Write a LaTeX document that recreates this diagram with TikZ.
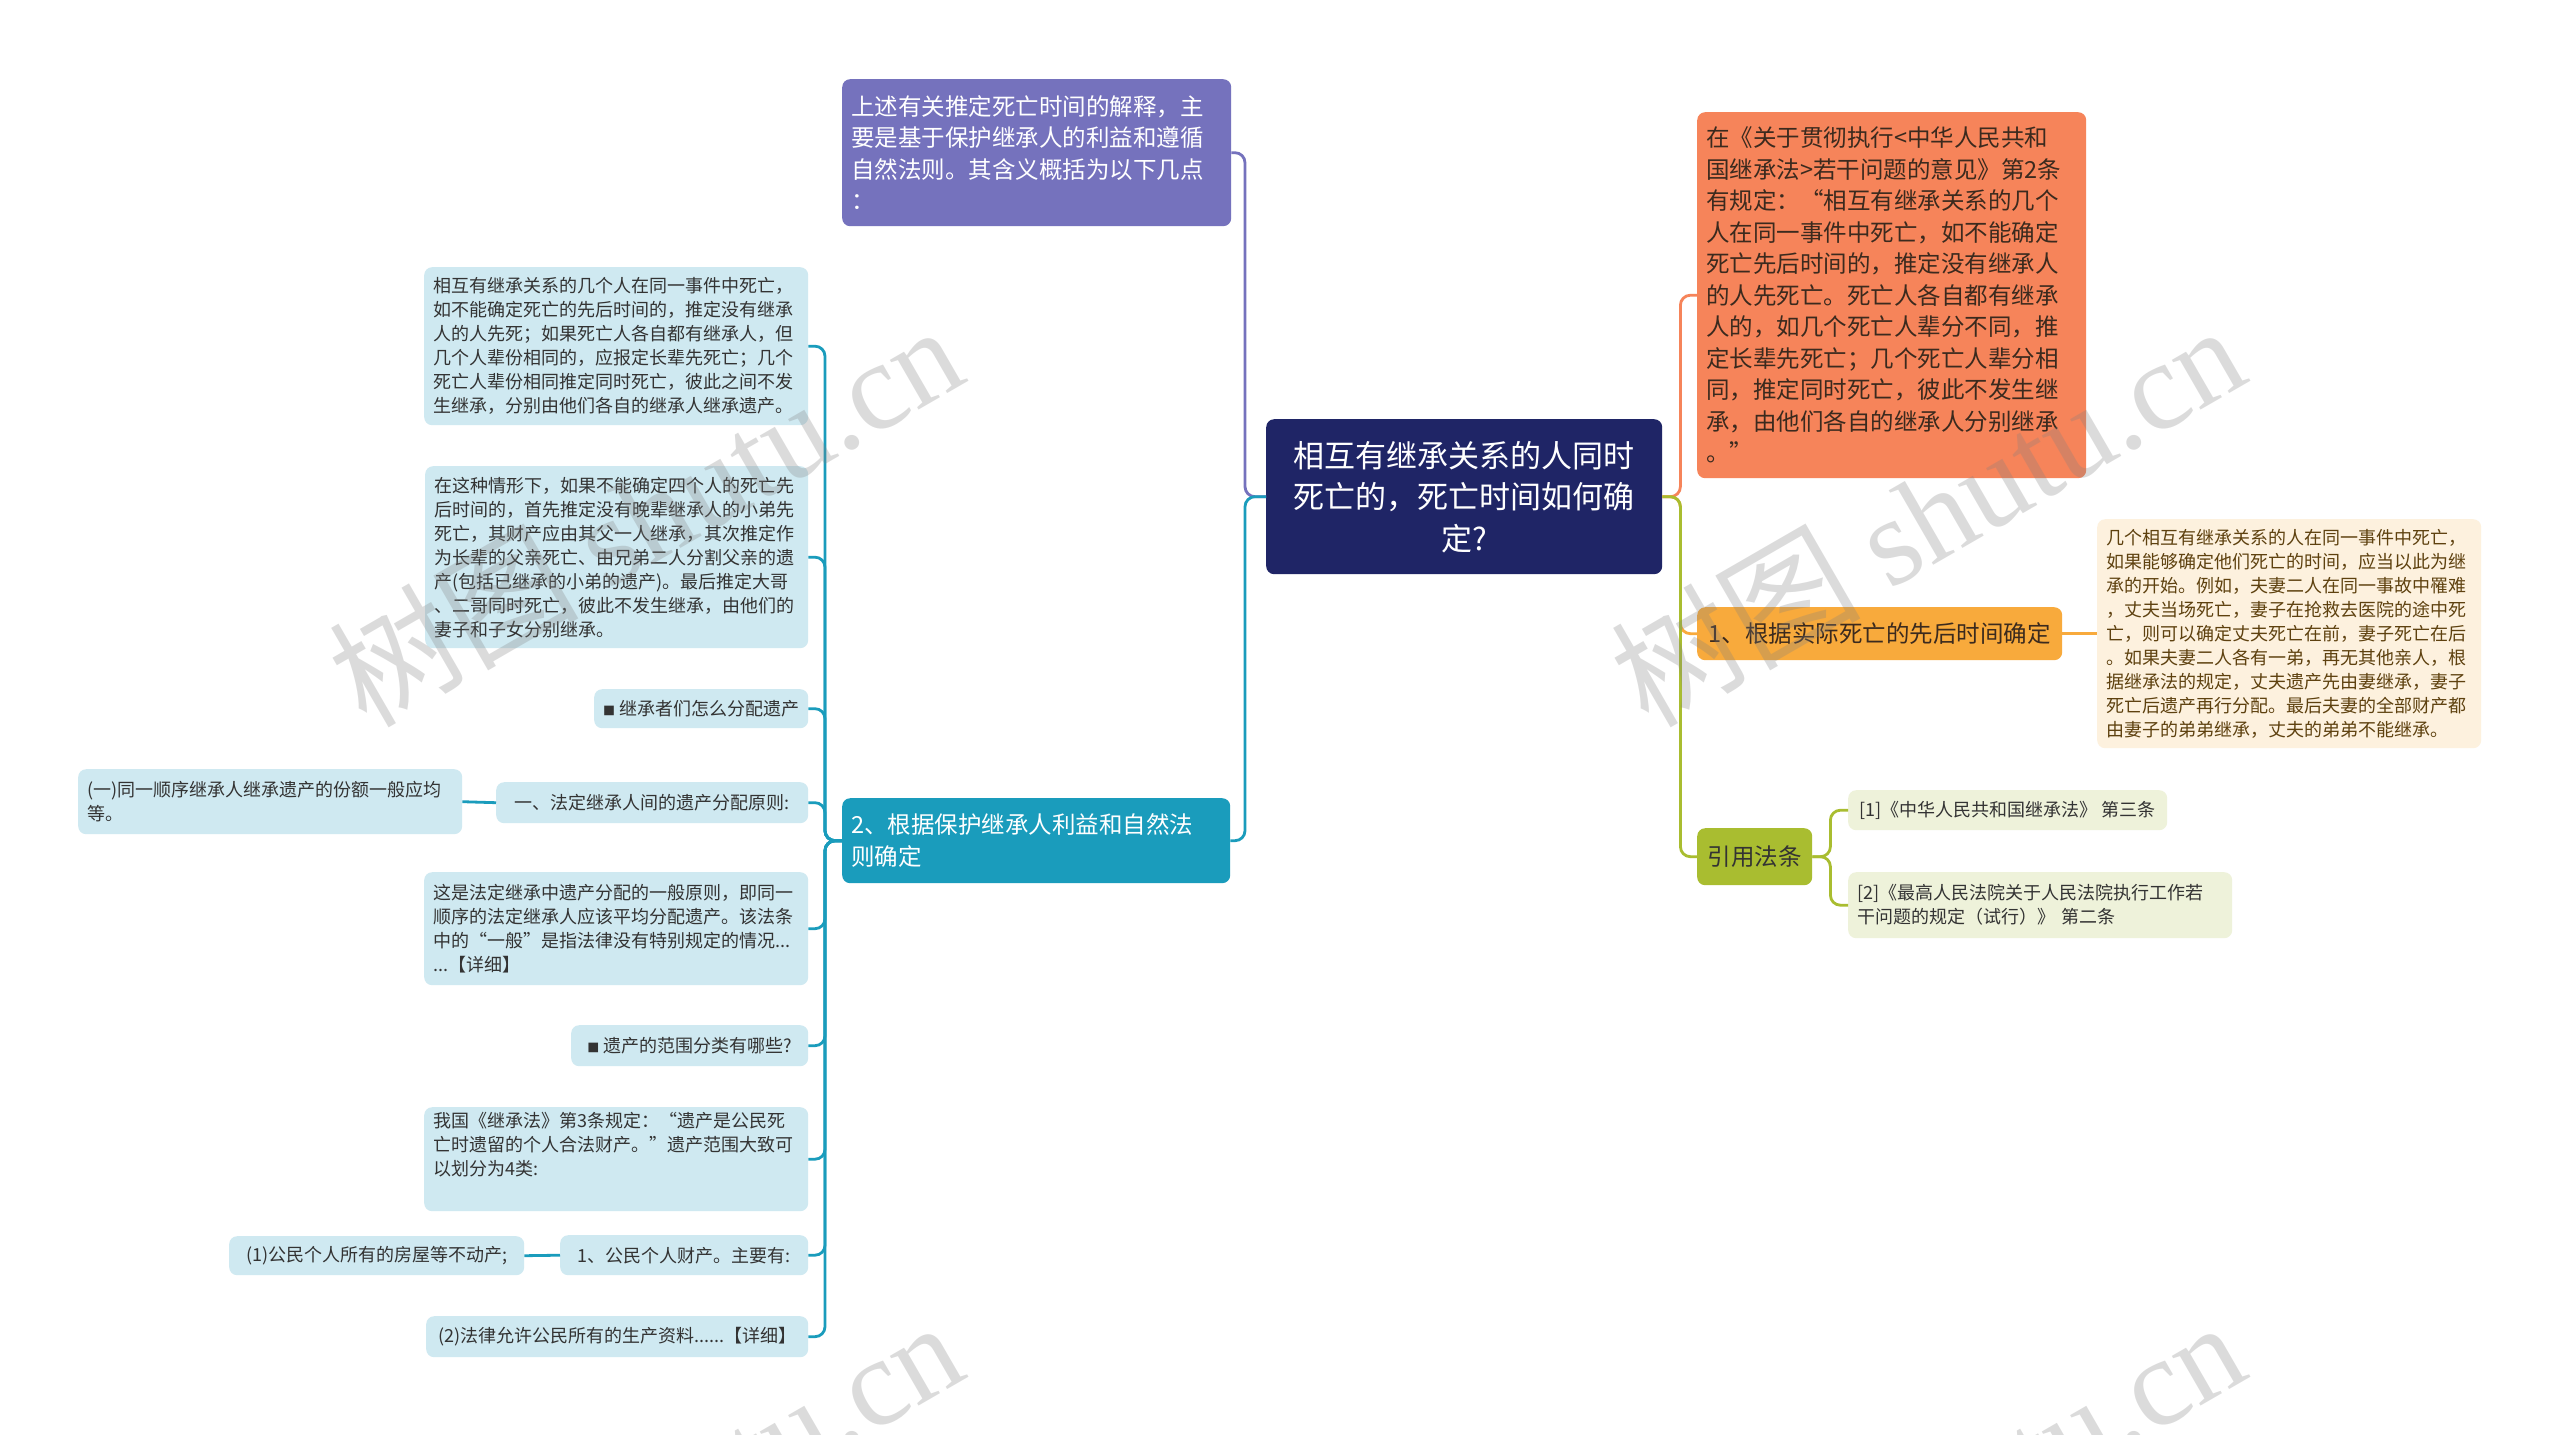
\documentclass[tikz,border=0pt]{standalone}
\usepackage{fontspec}
\newfontfamily\cjk{Noto Sans CJK SC}
\newfontfamily\wmlatin{Liberation Serif}
\definecolor{cnavy}{HTML}{1F2566}
\definecolor{cpurple}{HTML}{7572BD}
\definecolor{cteal}{HTML}{1A9CBC}
\definecolor{cleaf}{HTML}{CFE9F1}
\definecolor{corange}{HTML}{F6845A}
\definecolor{camber}{HTML}{F8AA3C}
\definecolor{ccream}{HTML}{FDF1DE}
\definecolor{cgreen}{HTML}{A9BD30}
\definecolor{cpale}{HTML}{EEF2DA}
\definecolor{ctext}{HTML}{333333}
\definecolor{cbrown}{HTML}{3B2A1E}
\definecolor{cgold}{HTML}{5E410F}
\newcommand\mybox[7]{%
  \pgfmathsetmacro\myBW{#4-#2}%
  \pgfmathsetmacro\myBH{#5-#3}%
  \pgfmathsetmacro\myTW{#4-#2-18}%
  \node[#6, minimum width=\myBW pt, minimum height=\myBH pt, text width=\myTW pt] (#1) at (#2,#3) {#7};%
}
\newcommand\myline[7]{%
  \pgfmathsetmacro\myBW{#4-#2}%
  \pgfmathsetmacro\myBH{#5-#3}%
  \node[#6, minimum width=\myBW pt, minimum height=\myBH pt] (#1) at (#2,#3) {#7};%
}
\newcommand\smallsq{{\fontsize{12}{12}\selectfont ■}}
\begin{document}
\begin{tikzpicture}[x=1pt,y=-1pt,
  base/.style={rounded corners=8pt, inner xsep=9pt, inner ysep=0pt, anchor=north west, align=left},
  central/.style={base, fill=cnavy, text=white, align=center, font=\cjk\fontsize{31}{41.5}\selectfont},
  bigbox/.style={base, font=\cjk\fontsize{23.5}{31.5}\selectfont},
  leaf/.style={base, fill=cleaf, text=ctext, font=\cjk\fontsize{18}{24}\selectfont},
  cream/.style={base, fill=ccream, text=cgold, font=\cjk\fontsize{18}{24}\selectfont},
  pale/.style={base, fill=cpale, text=ctext, font=\cjk\fontsize{18}{24}\selectfont},
  conn/.style={line width=2.8pt, rounded corners=10pt},
  wmark/.style={rotate=30, text=gray, opacity=0.28, font=\cjk\fontsize{125}{125}\selectfont}
]
\fill[white] (0,0) rectangle (2560,1435);
\useasboundingbox (0,0) rectangle (2560,1435);

% central and main branches
\mybox{C}{1266}{419}{1662}{574}{central}{相互有继承关系的人同时\\死亡的，死亡时间如何确\\定?}
\mybox{P}{842}{79}{1231}{226}{bigbox, fill=cpurple, text=white}{上述有关推定死亡时间的解释，主\\要是基于保护继承人的利益和遵循\\自然法则。其含义概括为以下几点\\：}
\mybox{T}{842}{798}{1230}{883}{bigbox, fill=cteal, text=white}{2、根据保护继承人利益和自然法\\则确定}

% left leaves
\mybox{La}{424}{267}{808}{425}{leaf}{相互有继承关系的几个人在同一事件中死亡，\\如不能确定死亡的先后时间的，推定没有继承\\人的人先死；如果死亡人各自都有继承人，但\\几个人辈份相同的，应报定长辈先死亡；几个\\死亡人辈份相同推定同时死亡，彼此之间不发\\生继承，分别由他们各自的继承人继承遗产。}
\mybox{Lb}{425}{466}{808}{648}{leaf}{在这种情形下，如果不能确定四个人的死亡先\\后时间的，首先推定没有晚辈继承人的小弟先\\死亡，其财产应由其父一人继承，其次推定作\\为长辈的父亲死亡、由兄弟二人分割父亲的遗\\产(包括已继承的小弟的遗产)。最后推定大哥\\、二哥同时死亡，彼此不发生继承，由他们的\\妻子和子女分别继承。}
\myline{Lc}{594}{689}{808}{728}{leaf}{\smallsq\ 继承者们怎么分配遗产}
\myline{Ld}{496}{782}{808}{823}{leaf}{一、法定继承人间的遗产分配原则:}
\mybox{Ld1}{78}{769}{462}{834}{leaf}{(一)同一顺序继承人继承遗产的份额一般应均\\等。}
\mybox{Le}{424}{872}{808}{985}{leaf}{这是法定继承中遗产分配的一般原则，即同一\\顺序的法定继承人应该平均分配遗产。该法条\\中的“一般”是指法律没有特别规定的情况...\\...【详细】}
\myline{Lf}{571}{1025}{808}{1066}{leaf}{\smallsq\ 遗产的范围分类有哪些?}
\mybox{Lg}{424}{1107}{808}{1211}{leaf}{我国《继承法》第3条规定：“遗产是公民死\\亡时遗留的个人合法财产。”遗产范围大致可\\以划分为4类:\\\strut}
\myline{Lh}{560}{1235}{808}{1275}{leaf}{1、公民个人财产。主要有:}
\myline{Lh1}{229}{1236}{524}{1275}{leaf}{(1)公民个人所有的房屋等不动产;}
\myline{Li}{426}{1316}{808}{1357}{leaf}{(2)法律允许公民所有的生产资料......【详细】}

% right side
\mybox{O}{1697}{112}{2086}{478}{bigbox, fill=corange, text=cbrown}{在《关于贯彻执行<中华人民共和\\国继承法>若干问题的意见》第2条\\有规定：“相互有继承关系的几个\\人在同一事件中死亡，如不能确定\\死亡先后时间的，推定没有继承人\\的人先死亡。死亡人各自都有继承\\人的，如几个死亡人辈分不同，推\\定长辈先死亡；几个死亡人辈分相\\同，推定同时死亡，彼此不发生继\\承，由他们各自的继承人分别继承\\。”}
\myline{A}{1697}{607}{2062}{660}{bigbox, fill=camber, text=cbrown}{1、根据实际死亡的先后时间确定}
\mybox{A1}{2097}{519}{2481}{748}{cream}{几个相互有继承关系的人在同一事件中死亡，\\如果能够确定他们死亡的时间，应当以此为继\\承的开始。例如，夫妻二人在同一事故中罹难\\，丈夫当场死亡，妻子在抢救去医院的途中死\\亡，则可以确定丈夫死亡在前，妻子死亡在后\\。如果夫妻二人各有一弟，再无其他亲人，根\\据继承法的规定，丈夫遗产先由妻继承，妻子\\死亡后遗产再行分配。最后夫妻的全部财产都\\由妻子的弟弟继承，丈夫的弟弟不能继承。}
\myline{G}{1697}{828}{1812}{885}{bigbox, fill=cgreen, text=ctext}{引用法条}
\myline{G1}{1848}{790}{2167}{830}{pale}{[1]《中华人民共和国继承法》 第三条}
\mybox{G2}{1848}{872}{2232}{938}{pale}{[2]《最高人民法院关于人民法院执行工作若\\干问题的规定（试行）》 第二条}

% connectors
\draw[conn, cpurple] (C.west) -- ++(-21,0) |- (P.east);
\draw[conn, cteal] (C.west) -- ++(-21,0) |- (T.east);
\foreach \n in {La,Lb,Lc,Ld,Le,Lf,Lg,Lh,Li}
  \draw[conn, cteal] (T.west) -- ++(-17,0) |- (\n.east);
\draw[conn, cteal] (Ld.west) -- (Ld1.east);
\draw[conn, cteal] (Lh.west) -- (Lh1.east);
\draw[conn, corange] (C.east) -- ++(18,0) |- (O.west);
\draw[conn, camber] (C.east) -- ++(18,0) |- (A.west);
\draw[conn, cgreen] (C.east) -- ++(18,0) |- (G.west);
\draw[conn, camber] (A.east) -- (A1.west);
\draw[conn, cgreen] (G.east) -- ++(18,0) |- (G1.west);
\draw[conn, cgreen] (G.east) -- ++(18,0) |- (G2.west);

% watermarks
\node[wmark] (W1) at (645,514) {树图 {\wmlatin shutu.cn}};
\node[wmark] (W2) at (1927,514) {树图 {\wmlatin shutu.cn}};
\node[wmark] (W3) at (645,1510) {树图 {\wmlatin shutu.cn}};
\node[wmark] (W4) at (1927,1510) {树图 {\wmlatin shutu.cn}};
\end{tikzpicture}
\end{document}
